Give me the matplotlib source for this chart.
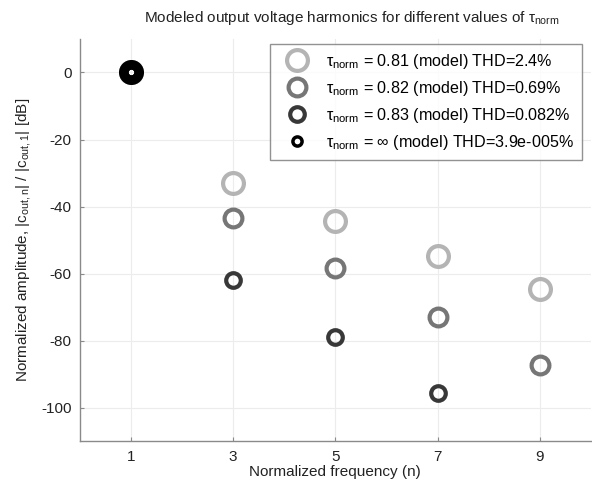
import numpy as np
import matplotlib
matplotlib.use("Agg")
import matplotlib.pyplot as plt

plt.rcParams['font.family'] = ['Liberation Sans', 'DejaVu Sans']
plt.rcParams['mathtext.fontset'] = 'custom'
plt.rcParams['mathtext.rm'] = 'Liberation Sans'
plt.rcParams['mathtext.it'] = 'Liberation Sans'
plt.rcParams['mathtext.sf'] = 'Liberation Sans'
plt.rcParams['axes.unicode_minus'] = False

harmonics = [1, 3, 5, 7, 9]
amp_081 = [0, -32.9, -44.4, -54.8, -64.5]
amp_082 = [0, -43.4, -58.3, -73.0, -87.3]
amp_083 = [0, -61.8, -78.9, -95.6, np.nan]
amp_inf = [0, np.nan, np.nan, np.nan, np.nan]

labels = [r'$\tau_{\mathrm{norm}}$ = 0.81 (model) THD=2.4%',
          r'$\tau_{\mathrm{norm}}$ = 0.82 (model) THD=0.69%',
          r'$\tau_{\mathrm{norm}}$ = 0.83 (model) THD=0.082%',
          r'$\tau_{\mathrm{norm}}$ = $\infty$ (model) THD=3.9e-005%']
x_ticks = [1, 3, 5, 7, 9]
y_ticks = [0, -20, -40, -60, -80, -100]

series = [amp_081, amp_082, amp_083, amp_inf]
colors = ['#b4b4b4', '#767676', '#383838', '#000000']
sizes = [15.0, 12.8, 10.5, 6.6]
edge_w = [3.0, 3.0, 3.0, 2.5]

fig = plt.figure(figsize=(5.92, 4.87), dpi=100)
ax = fig.add_axes([0.135, 0.094, 0.863, 0.826])

for vals, c, ms, ew, lab in zip(series, colors, sizes, edge_w, labels):
    vals = np.array(vals, dtype=float)
    ax.plot(harmonics, vals, linestyle='none', marker='o', markersize=ms,
            markerfacecolor='none', markeredgecolor=c, markeredgewidth=ew,
            label=lab)
# fundamental drawn in black for all
for vals, ms, ew in zip(series, sizes, edge_w):
    ax.plot(harmonics[:1], vals[:1], linestyle='none', marker='o', markersize=ms,
            markerfacecolor='none', markeredgecolor='black', markeredgewidth=ew)

ax.set_xlim(0, 10)
ax.set_ylim(-110, 10)
ax.set_xticks(x_ticks)
ax.set_yticks(y_ticks)
ax.grid(True, color='#ececec', linewidth=0.8)
ax.set_axisbelow(True)
for s in ['top', 'right']:
    ax.spines[s].set_visible(False)
for s in ['left', 'bottom']:
    ax.spines[s].set_color('#8a8a8a')
    ax.spines[s].set_linewidth(1.0)
ax.tick_params(direction='in', colors='#8a8a8a', labelcolor='#222222',
               labelsize=11, length=3, width=0.8, pad=6)

ax.set_xlabel('Normalized frequency (n)', fontsize=11, color='#222222', labelpad=1)
ax.set_ylabel(r'Normalized amplitude, |c$_{\mathrm{out,n}}$| / |c$_{\mathrm{out,1}}$| [dB]',
              fontsize=11, color='#222222', labelpad=6)
ax.set_title(r'Modeled output voltage harmonics for different values of $\tau_{\mathrm{norm}}$',
             fontsize=11, color='#222222', pad=12, x=0.532)

leg = ax.legend(loc='upper right', bbox_to_anchor=(0.983, 0.988), borderaxespad=0,
                fontsize=11.6, frameon=True, fancybox=False, edgecolor='#777777',
                handletextpad=0.6, borderpad=0.5, labelspacing=0.5, handlelength=2.4)
leg.get_frame().set_linewidth(1.0)

fig.savefig('out.png', dpi=100)
